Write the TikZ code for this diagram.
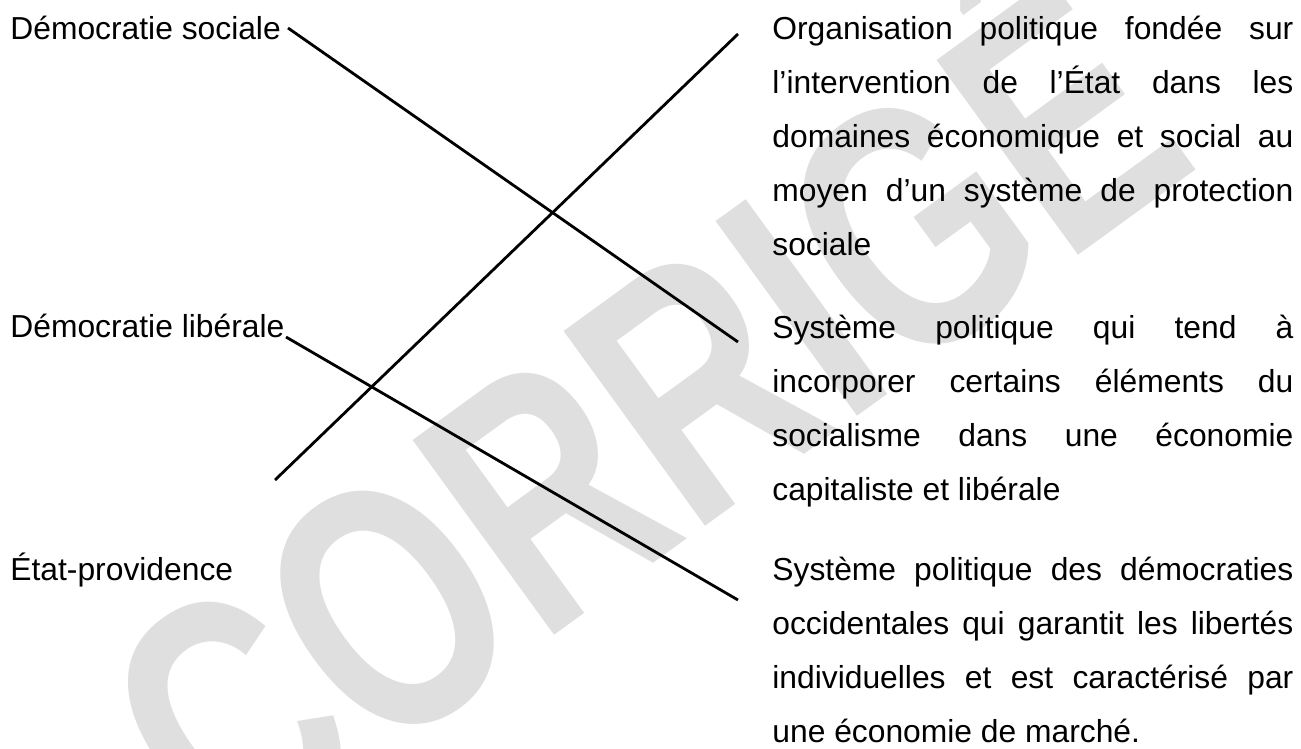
\documentclass[tikz,border=0pt]{standalone}
\usepackage{fontspec}
\setmainfont{Liberation Sans}
\usetikzlibrary{positioning}

\definecolor{filigrane}{HTML}{DFDFDF}
\hyphenpenalty=10000
\exhyphenpenalty=10000

\tikzset{
	lien/.style={line width=1.4pt},
	terme/.style={anchor=base west,inner sep=0pt,font=\fontsize{15.9}{27}\selectfont},
	defn/.style={terme,text width=260.5pt,align=justify},
	marque/.style={inner sep=0pt,rotate=36,text=filigrane,font=\fontsize{175}{175}\selectfont\bfseries}
}

\begin{document}
\begin{tikzpicture}[x=0.5pt,y=-0.5pt]
	\useasboundingbox (0,0) rectangle (1301,749);
	% filigrane
	\node[marque] (corr) at (625,395) {\scalebox{0.74}[1]{CORRIGÉ}};
	\draw
		node [terme] (ds)   at (10,40)  {Démocratie sociale}
		node [terme] (dl)   at (10,337) {Démocratie libérale}
		node [terme] (ep)   at (10,580) {État-providence}
		node [defn]  (org)  at (772,40)  {Organisation politique fondée sur\linebreak
			l’intervention de l’État dans les\linebreak
			domaines économique et social au\linebreak
			moyen d’un système de protection\linebreak
			sociale}
		node [defn]  (mix)  at (772,338) {Système politique qui tend à\linebreak
			incorporer certains éléments du\linebreak
			socialisme dans une économie\linebreak
			capitaliste et libérale}
		node [defn]  (lib)  at (772,580) {Système politique des démocraties\linebreak
			occidentales qui garantit les libertés\linebreak
			individuelles et est caractérisé par\linebreak
			une économie de marché.}
	;
	% bouts des traits
	\coordinate (ds-r)  at (288,28);
	\coordinate (dl-r)  at (286,337);
	\coordinate (org-l) at (738,34);
	\coordinate (mix-l) at (738,342);
	\coordinate (lib-l) at (738,600);
	\coordinate (ep-r)  at (275,480);
	\draw[lien] (ds-r) -- (mix-l);
	\draw[lien] (org-l) -- (ep-r);
	\draw[lien] (dl-r) -- (lib-l);
\end{tikzpicture}
\end{document}
